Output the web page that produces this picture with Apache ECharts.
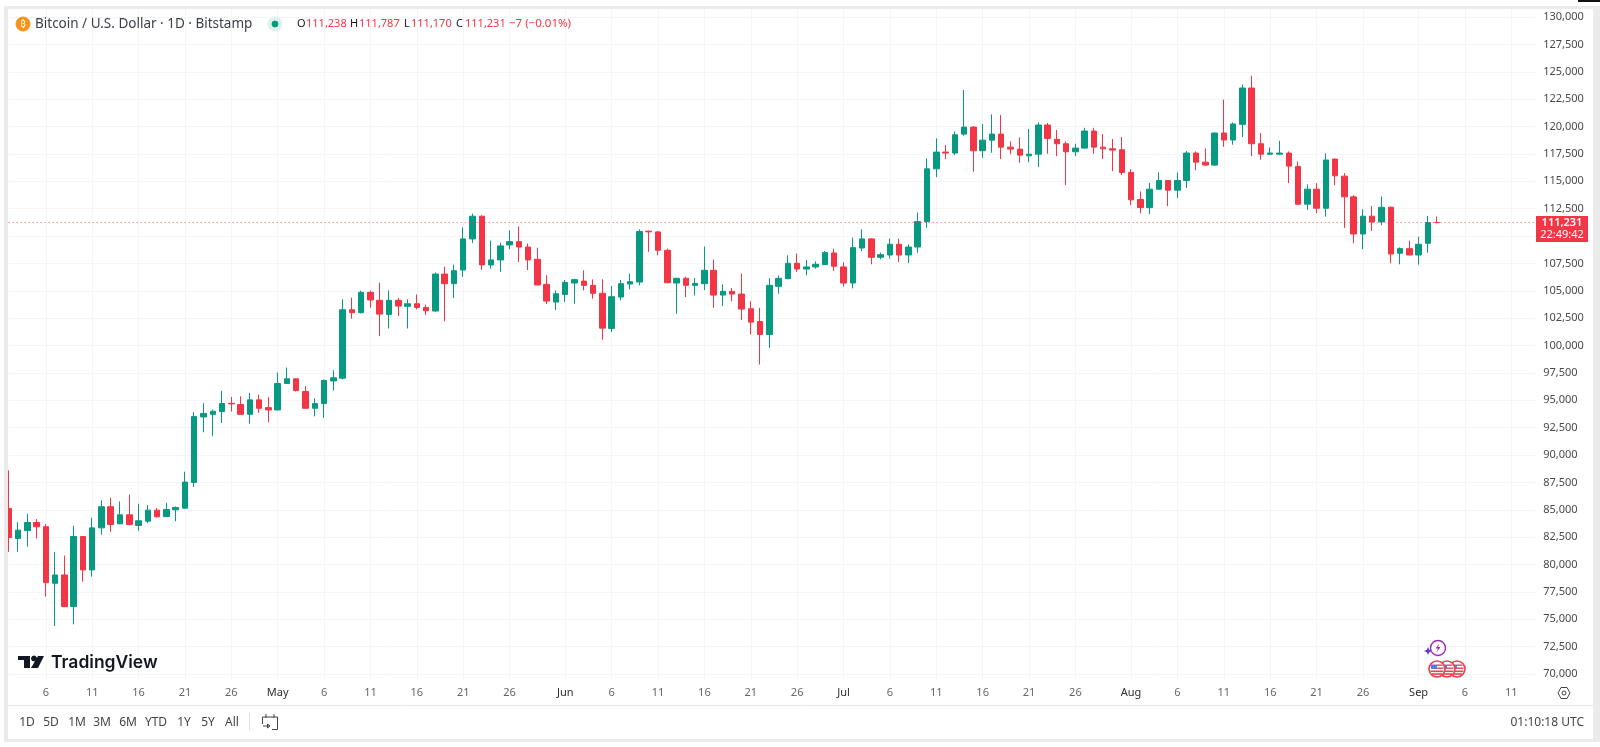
<!DOCTYPE html>
<html lang="en">

<head>
    <meta charset="UTF-8">
    <title>Bitcoin / U.S. Dollar</title>
    <style>
        * {
            margin: 0;
            padding: 0;
        }

        html,
        body,
        #chart {
            width: 100%;
            height: 100%;
            overflow: hidden;
            background: #fff;
        }
    </style>
</head>

<body>
    <div id="chart"></div>
    <script src="https://cdn.jsdelivr.net/npm/echarts@6/dist/echarts.min.js"></script>
    <script>
        // one candle per day, Apr 2 .. Sep 3
        const opens = [
            85120, 82380, 83110, 83840, 83450, 78290, 79050, 76160, 82560, 79510,
            83350, 85280, 83720, 84540, 83570, 83960, 84970, 84390, 85000, 85150,
            87500, 93480, 93720, 93970, 94730, 94610, 93720, 95040, 94330, 94120,
            96530, 96960, 95800, 94270, 94700, 96770, 97020, 103270, 103000, 104860,
            104130, 102840, 104130, 103580, 103820, 103480, 103150, 106530, 105650, 106900,
            109740, 111810, 107360, 107820, 109190, 109490, 109000, 107880, 105590, 103970,
            104670, 105710, 105890, 105500, 104770, 101560, 104430, 105620, 105800, 110440,
            110380, 108700, 105710, 106140, 105500, 105650, 106870, 104610, 104950, 104700,
            103360, 102200, 101010, 105410, 106110, 107510, 106990, 107180, 107390, 108460,
            107180, 105710, 108910, 109740, 108060, 108270, 109250, 108270, 109000, 111320,
            116140, 117670, 117580, 119310, 119950, 117790, 118760, 119310, 118120, 117940,
            117330, 117480, 120140, 118830, 118430, 117700, 118030, 119590, 118120, 117970,
            117880, 115810, 113340, 112600, 114280, 115070, 114190, 115070, 117580, 116750,
            116480, 119410, 118770, 120200, 123520, 118430, 117480, 117480, 117580, 116360,
            112910, 114280, 112540, 117030, 115470, 113580, 110190, 111810, 111290, 112630,
            108430, 108850, 108270, 109340, 111238
        ];
        const highs = [
            88600, 83870, 84640, 84150, 83690, 81160, 80820, 83540, 82600, 84270,
            85860, 86100, 85760, 86400, 85550, 85430, 85150, 85640, 85310, 88480,
            93910, 94730, 94150, 95860, 95310, 95370, 95680, 95520, 95280, 97540,
            97990, 97000, 96290, 95190, 96900, 97750, 104220, 104370, 105010, 105010,
            105740, 105040, 104340, 104220, 104670, 103730, 106660, 107210, 107390, 110800,
            112050, 111900, 109580, 109400, 110530, 110870, 109310, 108940, 106410, 105040,
            105990, 106100, 106870, 106050, 106050, 105440, 105990, 106570, 110620, 110500,
            110450, 108850, 106170, 106290, 106170, 109040, 107850, 105590, 105250, 106570,
            104060, 103450, 106140, 106410, 108240, 108400, 107820, 107690, 108640, 108850,
            107600, 109860, 110620, 109800, 108490, 109770, 109770, 109250, 112150, 117090,
            118920, 118310, 119560, 123340, 120050, 120230, 121110, 121050, 118640, 119010,
            119770, 120380, 120320, 119680, 118640, 118430, 119890, 119890, 119310, 118860,
            119040, 116110, 114070, 114860, 115810, 115100, 115810, 117760, 117730, 118000,
            119450, 122460, 120380, 123830, 124650, 119410, 118090, 118700, 117730, 116810,
            114710, 114830, 117550, 117090, 115750, 113730, 112450, 112730, 113610, 112700,
            108970, 109580, 109950, 111840, 111787
        ];
        const lows = [
            81160, 81160, 81650, 82380, 77070, 74390, 76100, 74540, 78440, 78900,
            82740, 82990, 83700, 83600, 83080, 83780, 84300, 84350, 83960, 85100,
            87080, 92080, 91710, 92930, 93970, 93700, 92870, 93850, 92990, 94100,
            96500, 95800, 94200, 93540, 93390, 95890, 96900, 102450, 102940, 103450,
            100860, 101560, 102690, 101560, 103300, 102780, 103100, 102200, 104340, 106260,
            109370, 106900, 107020, 106750, 108790, 107630, 106900, 105500, 103790, 103240,
            103970, 103820, 105040, 104280, 100530, 101230, 104130, 105130, 105500, 108550,
            108240, 105700, 102900, 104430, 104580, 105070, 103450, 103610, 104030, 102330,
            101010, 98270, 99790, 104730, 106050, 106720, 106410, 107020, 107350, 106810,
            105380, 105220, 108640, 107420, 107880, 107940, 107630, 107540, 108460, 110770,
            115380, 117030, 117390, 119160, 115870, 117150, 117610, 117030, 117480, 116690,
            116750, 116290, 117510, 117300, 114650, 117300, 118000, 117510, 117030, 115930,
            115560, 112820, 112090, 111990, 114200, 112730, 113460, 114400, 116020, 116400,
            116400, 118150, 118340, 119040, 117300, 116970, 117400, 117390, 114830, 112850,
            112390, 112090, 111780, 114650, 110740, 109340, 108790, 110470, 110990, 107510,
            107420, 108240, 107390, 108490, 111170
        ];
        const closes = [
            82470, 83140, 83840, 83450, 78350, 79050, 76160, 82560, 79510, 83350,
            85280, 83660, 84540, 83660, 84000, 84970, 84360, 85030, 85210, 87530,
            93510, 93790, 94000, 94700, 94670, 93720, 95040, 94270, 94120, 96530,
            96960, 95890, 94270, 94700, 96810, 97050, 103270, 103000, 104860, 104160,
            102870, 104130, 103610, 103820, 103480, 103180, 106530, 105650, 106840, 109740,
            111810, 107360, 107820, 109100, 109490, 109000, 107820, 105530, 104060, 104730,
            105770, 106020, 105500, 104770, 101590, 104460, 105650, 105830, 110410, 110380,
            108700, 105740, 106140, 105500, 105680, 106870, 104610, 104950, 104700, 103330,
            102140, 101010, 105500, 106140, 107510, 106990, 107180, 107420, 108490, 107240,
            105710, 108940, 109740, 108060, 108300, 109250, 108270, 109000, 111320, 116140,
            117670, 117580, 119250, 119950, 117790, 118760, 119310, 118120, 117940, 117390,
            117480, 120140, 118920, 118430, 117700, 118030, 119590, 118120, 117970, 117850,
            115810, 113310, 112600, 114280, 115070, 114190, 115070, 117580, 116750, 116480,
            119410, 118770, 120230, 123520, 118430, 117480, 117580, 117580, 116390, 112910,
            114280, 112540, 116940, 115500, 113580, 110190, 111810, 111290, 112630, 108360,
            108850, 108270, 109250, 111231, 111231
        ];

        const monthNames = ['Apr', 'May', 'Jun', 'Jul', 'Aug', 'Sep'];
        const monthLengths = [30, 31, 30, 31, 31, 30];
        const yTicks = [
            70000, 72500, 75000, 77500, 80000, 82500, 85000, 87500, 90000, 92500, 95000, 97500, 100000,
            102500, 105000, 107500, 110000, 112500, 115000, 117500, 120000, 122500, 125000, 127500, 130000
        ];
        const rangeButtons = ['1D', '5D', '1M', '3M', '6M', 'YTD', '1Y', '5Y', 'All'];
        const rangeButtonX = [27, 51, 77, 102, 128, 156, 184, 208, 232];

        const symbolText = 'Bitcoin / U.S. Dollar · 1D · Bitstamp';
        const lastPrice = 111231;
        const lastO = '111,238', lastH = '111,787', lastL = '111,170', lastC = '111,231';
        const changeText = '−7 (−0.01%)';
        const countdownText = '22:49:42';
        const clockText = '01:10:18 UTC';

        const UP = '#089981';
        const DOWN = '#F23645';
        const FONT = '"Noto Sans", sans-serif';

        // day axis runs on past the last candle, up to Sep 14
        let categories = [];
        monthNames.forEach((m, i) => {
            for (let d = 1; d <= monthLengths[i]; d++) {
                if (m === 'Apr' && d < 2) continue;
                if (m === 'Sep' && d > 14) continue;
                categories.push(m + ' ' + d);
            }
        });

        function isLabelDay(idx, value) {
            let d = parseInt(value.split(' ')[1]);
            return d !== 31 && d % 5 === 1;
        }

        let candleData = opens.map((o, i) => [o, closes[i], lows[i], highs[i]]);

        let chart = echarts.init(document.getElementById('chart'), null, { renderer: 'canvas' });

        chart.setOption({
            animation: false,
            backgroundColor: '#fff',
            textStyle: { fontFamily: FONT },
            grid: { left: 8.7, top: 9, width: 1530.5, bottom: 67 },
            xAxis: {
                type: 'category',
                data: categories,
                boundaryGap: false,
                axisLine: { show: false },
                axisTick: { show: false },
                splitLine: { show: true, interval: isLabelDay, lineStyle: { color: '#f4f5f7', width: 1 } },
                axisLabel: {
                    interval: isLabelDay,
                    margin: 7,
                    hideOverlap: false,
                    fontFamily: FONT,
                    formatter: function(value) {
                        let parts = value.split(' ');
                        return parts[1] === '1' ? '{m|' + parts[0] + '}' : '{d|' + parts[1] + '}';
                    },
                    rich: {
                        m: { color: '#2e2e2e', fontSize: 11, fontFamily: FONT },
                        d: { color: '#666', fontSize: 11, fontFamily: FONT }
                    }
                }
            },
            yAxis: {
                type: 'value',
                position: 'right',
                min: 69457,
                max: 130735,
                axisLine: { show: false },
                axisTick: { show: false, customValues: yTicks },
                splitLine: { show: true, lineStyle: { color: '#f4f5f7', width: 1 } },
                axisLabel: {
                    customValues: yTicks,
                    margin: 4,
                    color: '#4a4a4a',
                    fontSize: 11,
                    fontFamily: FONT,
                    formatter: v => v.toLocaleString('en-US')
                }
            },
            series: [{
                type: 'candlestick',
                data: candleData,
                barWidth: 6,
                itemStyle: { color: UP, color0: DOWN, borderColor: UP, borderColor0: DOWN, borderWidth: 1 },
                markLine: {
                    silent: true,
                    symbol: 'none',
                    label: { show: false },
                    lineStyle: { color: DOWN, type: [1, 3], width: 1, opacity: 0.8 },
                    data: [{ yAxis: lastPrice }]
                }
            }]
        });

        function rect(x, y, w, h, fill, z) {
            return { type: 'rect', shape: { x: x, y: y, width: w, height: h }, style: { fill: fill }, z: z || 20 };
        }

        function label(text, x, y, fill, size, align, extra, z) {
            return {
                type: 'text',
                x: x,
                y: y,
                z: z || 21,
                style: Object.assign({
                    text: text,
                    fill: fill,
                    font: (size || 12) + 'px ' + FONT,
                    textAlign: align || 'left',
                    textVerticalAlign: 'middle'
                }, extra || {})
            };
        }

        function line(x1, y1, x2, y2, color, width) {
            return {
                type: 'line',
                z: 21,
                shape: { x1: x1, y1: y1, x2: x2, y2: y2 },
                style: { stroke: color, lineWidth: width || 1 }
            };
        }

        function circle(cx, cy, r, fill, stroke, width, z) {
            return {
                type: 'circle',
                z: z || 21,
                shape: { cx: cx, cy: cy, r: r },
                style: { fill: fill, stroke: stroke, lineWidth: width || 1 }
            };
        }

        function poly(points, fill, stroke) {
            return { type: 'polygon', z: 21, shape: { points: points }, style: { fill: fill, stroke: stroke } };
        }

        // small round US flag, z keeps the front one on top of its neighbours
        function flag(cx, cy, z) {
            return [
                circle(cx, cy, 8, '#fff', '#e8414f', 1.6, z),
                rect(cx - 6, cy - 4.5, 6, 4.5, '#4f80e0', z + 1),
                rect(cx, cy - 4.5, 5.5, 1.4, '#e8414f', z + 1),
                rect(cx, cy - 1.5, 6.5, 1.4, '#e8414f', z + 1),
                rect(cx - 6.5, cy + 1.5, 13, 1.6, '#e8414f', z + 1),
                rect(cx - 5, cy + 4.2, 10, 1.6, '#e8414f', z + 1)
            ];
        }

        let tagY = chart.convertToPixel({ yAxisIndex: 0 }, lastPrice);

        let graphics = [
            // page frame
            rect(0, 0, 1600, 6, '#fff'),
            rect(0, 6, 1600, 3, '#ebebeb'),
            rect(0, 0, 4, 747, '#fff'),
            rect(4, 6, 4, 736, '#ebebeb'),
            rect(1593, 6, 7, 736, '#ebebeb'),
            rect(4, 739, 1596, 3, '#ebebeb'),
            rect(0, 742, 1600, 5, '#fff'),
            rect(1578, 0, 22, 2, '#111'),
            // keeps the grid lines off the price scale
            rect(1535.5, 9, 5, 671, '#fff', 10),
            // time axis rule and toolbar
            line(8, 705.5, 1593, 705.5, '#e6e7e9'),
            line(249.5, 713, 249.5, 731, '#e0e3eb'),
            // header
            circle(23, 24, 7, '#f7931a', '#f7931a'),
            label('₿', 23, 24.5, '#fff', 9, 'center'),
            label(symbolText, 35, 24, '#3a3e47', 13.5),
            circle(275, 24, 7, '#dcf2ee', '#dcf2ee'),
            circle(275, 24, 3, UP, UP),
            label('O', 297, 24, '#131722', 11),
            label(lastO, 306, 24, DOWN, 11),
            label('H', 350, 24, '#131722', 11),
            label(lastH, 359, 24, DOWN, 11),
            label('L', 404, 24, '#131722', 11),
            label(lastL, 411, 24, DOWN, 11),
            label('C', 456, 24, '#131722', 11),
            label(lastC, 465, 24, DOWN, 11),
            label(changeText, 509, 24, DOWN, 11.5),
            // last price tag
            rect(1536, tagY - 6.5, 52, 26, DOWN, 24),
            label(lastC, 1562, tagY, '#fff', 11, 'center', { font: '600 11px ' + FONT }, 25),
            label(countdownText, 1562, tagY + 12.5, '#fff', 11, 'center', null, 25),
            // logo
            poly([[18, 656], [30, 656], [30, 668], [24, 668], [24, 660], [18, 660]], '#131722'),
            circle(34, 658.5, 2.5, '#131722', '#131722'),
            poly([[38, 656], [44, 656], [38, 668], [31, 668]], '#131722'),
            label('TradingView', 51, 662.5, '#131722', 17.5, 'left', { font: '600 17.5px Inter, ' + FONT }),
            // event markers
            circle(1438, 648, 7.5, '#fff', '#9c27b0', 1.4),
            poly([[1439.5, 643.5], [1435.5, 648.5], [1438, 648.5], [1436.5, 652.5], [1440.5, 647], [1438, 647]], '#9c27b0'),
            poly([[1428, 647], [1429.2, 649.8], [1432, 651], [1429.2, 652.2], [1428, 655], [1426.8, 652.2], [1424, 651], [1426.8, 649.8]], '#5e35e0'),
            // gear
            poly([[1558, 693], [1561, 687.5], [1567, 687.5], [1570, 693], [1567, 698.5], [1561, 698.5]], 'none', '#444'),
            circle(1564, 693, 2, 'none', '#444'),
            // calendar icon
            line(262.5, 717, 277.5, 717, '#444'),
            line(277.5, 717, 277.5, 729.5, '#444'),
            line(272, 729.5, 277.5, 729.5, '#444'),
            line(262.5, 717, 262.5, 724, '#444'),
            line(266, 714, 266, 718, '#444'),
            line(274, 714, 274, 718, '#444'),
            line(263, 726, 270, 726, '#444'),
            poly([[267.5, 724], [270, 726], [267.5, 728]], 'none', '#444'),
            // clock
            label(clockText, 1584, 723, '#444', 12, 'right')
        ];

        rangeButtons.forEach((b, i) => {
            graphics.push(label(b, rangeButtonX[i], 722.5, '#444', 12, 'center'));
        });
        [[1457, 30], [1447, 32], [1437, 34]].forEach(f => {
            graphics = graphics.concat(flag(f[0], 669, f[1]));
        });

        chart.setOption({ graphic: graphics });
    </script>
</body>

</html>
